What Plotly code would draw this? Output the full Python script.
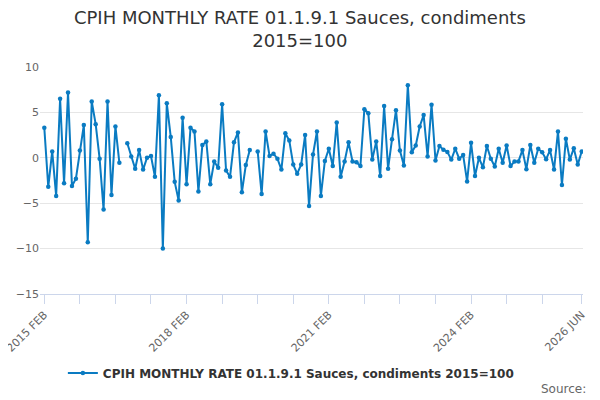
import plotly.graph_objects as go

# monthly rate, 2015 FEB .. 2026 JUN (None = no value published)
months = []
mon_names = ["JAN", "FEB", "MAR", "APR", "MAY", "JUN",
             "JUL", "AUG", "SEP", "OCT", "NOV", "DEC"]
for year in range(2015, 2027):
    for m in mon_names:
        months.append(f"{year} {m}")
months = months[1:months.index("2026 JUN") + 1]

rate = [
    3.3, -3.2, 0.7, -4.2, 6.5, -2.8, 7.2, -3.1, -2.3, 0.8,
    3.6, -9.3, 6.2, 3.7, -0.1, -5.7, 6.2, -4.1, 3.45, -0.55,
    None, 1.6, 0.15, -1.2, 0.85, -1.3, 0.0, 0.2, -2.1, 6.9,
    -10.0, 6.0, 2.3, -2.65, -4.7, 4.4, -2.9, 3.3, 2.9, -3.7,
    1.4, 1.8, -2.9, -0.4, -1.1, 5.9, -1.4, -2.1, 1.7, 2.8,
    -3.8, -0.8, 0.85, None, 0.7, -4.0, 2.9, 0.2, 0.45, -0.1,
    -1.3, 2.7, 1.9, -0.75, -1.75, -0.75, 2.5, -5.3, 0.35, 2.9,
    -4.2, -0.35, 1.0, -0.9, 3.9, -2.1, -0.4, 1.7, -0.4, -0.5,
    -0.9, 5.35, 4.9, -0.2, 1.8, -2.0, 5.7, -1.2, 2.05, 5.25,
    0.8, -0.85, 8.0, 0.6, 1.35, 3.45, 4.7, 0.15, 5.85, -0.3,
    1.3, 0.9, 0.65, -0.2, 1.0, -0.1, 0.3, -2.6, 1.65, -2.0,
    0.0, -1.05, 1.3, -0.1, -0.95, 1.0, -0.55, 1.35, -0.9, -0.4,
    -0.4, 0.85, -1.25, 1.4, -0.55, 1.0, 0.6, -0.15, 0.85, -1.3,
    2.9, -3.0, 2.1, -0.2, 1.05, -0.75, 0.7,
]

label_months = ["2015 FEB", "2018 FEB", "2021 FEB", "2024 FEB", "2026 JUN"]
series_name = "CPIH MONTHLY RATE 01.1.9.1 Sauces, condiments 2015=100"

# ticks every 9 months, labels only on the named months
tick_vals = months[0:127:9] + [months[-1]]
tick_text = [t if t in label_months else "" for t in tick_vals]

blue = "#0a7bc2"
fig = go.Figure()
fig.add_trace(
    go.Scatter(
        x=months,
        y=rate,
        mode="lines+markers",
        name=series_name,
        line=dict(color=blue, width=2),
        marker=dict(color=blue, size=4.5),
        connectgaps=False,
    )
)

# the page body keeps its 8px margin, so the figure is 8px smaller
fig.update_layout(
    width=592,
    height=392,
    margin=dict(l=32, r=17, t=59, b=106, autoexpand=False),
    plot_bgcolor="white",
    paper_bgcolor="white",
    font=dict(family="DejaVu Sans", color="#666666"),
    title=dict(
        text="CPIH MONTHLY RATE 01.1.9.1 Sauces, condiments<br>2015=100",
        x=0.493,
        xanchor="center",
        y=0.96,
        yanchor="top",
        font=dict(size=18, color="#333333"),
    ),
    showlegend=True,
    legend=dict(
        orientation="h",
        x=0.462,
        xanchor="center",
        y=-0.348,
        yanchor="middle",
        font=dict(size=12, color="#333333", weight="bold"),
    ),
    annotations=[
        dict(
            text="Source:",
            xref="paper",
            yref="paper",
            x=1.01,
            xanchor="right",
            y=-0.42,
            yanchor="middle",
            showarrow=False,
            font=dict(size=12, color="#666666"),
        )
    ],
)

fig.update_xaxes(
    type="category",
    automargin=False,
    range=[-1.09, 136.33],
    tickmode="array",
    tickvals=tick_vals,
    ticktext=tick_text,
    tickangle=-45,
    ticks="outside",
    ticklen=9,
    tickcolor="#ccd6eb",
    showline=True,
    linecolor="#ccd6eb",
    showgrid=False,
    tickfont=dict(size=11, color="#666666"),
)
fig.update_yaxes(
    automargin=False,
    range=[-15, 10],
    tickvals=[-15, -10, -5, 0, 5, 10],
    showgrid=True,
    gridcolor="#e6e6e6",
    zeroline=False,
    ticks="",
    tickfont=dict(size=11, color="#666666"),
)

fig.write_html("out.html")
